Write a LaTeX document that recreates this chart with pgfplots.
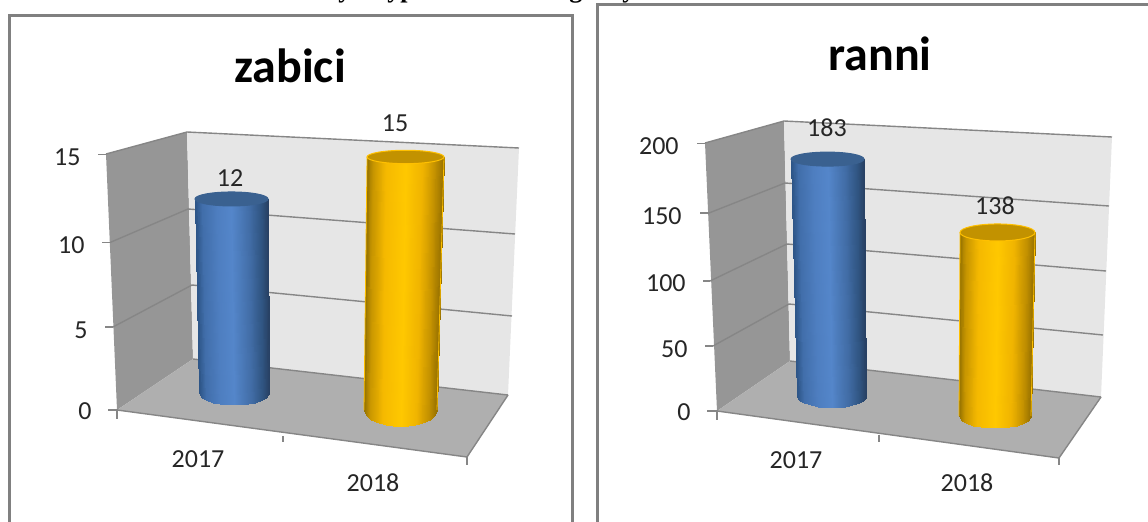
\documentclass[border=0pt]{standalone}
\usepackage{fontspec}
\setmainfont{Carlito}
\newfontfamily\headfont{Liberation Serif}
\usepackage{pgfplots}
\usepackage{pgfplotstable}
\pgfplotsset{compat=1.18}

\definecolor{blueCap}{HTML}{3A6190}
\definecolor{yelCap}{HTML}{C29200}
\definecolor{yelRim}{HTML}{FFC000}
\definecolor{wallL}{HTML}{969696}
\definecolor{wallB}{HTML}{E6E6E6}
\definecolor{floorc}{HTML}{AFAFAF}
\definecolor{gridc}{HTML}{868686}
\definecolor{framec}{HTML}{808080}
\definecolor{txt}{HTML}{262626}

% cylinder skin: bottom edge (t=0, follows the ellipse) then top edge (t=1)
\pgfplotstableread{
u arc t
-1.00 0.000 0
-0.98 0.199 0
-0.92 0.392 0
-0.80 0.600 0
-0.60 0.800 0
-0.40 0.917 0
-0.20 0.980 0
0.00 1.000 0
0.20 0.980 0
0.40 0.917 0
0.60 0.800 0
0.80 0.600 0
0.92 0.392 0
0.98 0.199 0
1.00 0.000 0
-1.00 0.000 1
-0.98 0.199 1
-0.92 0.392 1
-0.80 0.600 1
-0.60 0.800 1
-0.40 0.917 1
-0.20 0.980 1
0.00 1.000 1
0.20 0.980 1
0.40 0.917 1
0.60 0.800 1
0.80 0.600 1
0.92 0.392 1
0.98 0.199 1
1.00 0.000 1
}\cylskin

% 1 px of the reference = 0.5pt
\pgfplotsset{
  colormap={bluecyl}{rgb255(0cm)=(45,85,135) rgb255(10cm)=(65,110,170) rgb255(30cm)=(78,126,192)
    rgb255(50cm)=(84,134,202) rgb255(75cm)=(65,108,165) rgb255(90cm)=(48,85,130) rgb255(100cm)=(40,65,100)},
  colormap={yellowcyl}{rgb255(0cm)=(150,115,0) rgb255(8cm)=(200,150,0) rgb255(25cm)=(245,185,0)
    rgb255(50cm)=(255,200,0) rgb255(72cm)=(240,180,0) rgb255(88cm)=(195,145,0) rgb255(100cm)=(150,112,0)},
  % #1 y pixel of value 0, #2 px per unit, #3 ymax
  barpanel/.style n args={3}{
    at={(0pt,{0.5*(521-#1)*1pt})}, anchor=south west,
    scale only axis, width=574pt, height={0.5*#2*#3*1pt},
    xmin=0, xmax=1148, ymin=0, ymax=#3,
    axis lines=none, clip=false, point meta min=0, point meta max=100},
}
% #1 colormap, #2 base cx, #3 base half width, #4 base half height (in data units), #5 top cx, #6 top half width, #7 value
\newcommand\cylbody[7]{\addplot[surf, shader=interp, colormap name=#1, mesh/rows=2, point meta=explicit, forget plot]
  table[x expr={(1-\thisrow{t})*(#2+\thisrow{u}*#3)+\thisrow{t}*(#5+\thisrow{u}*#6)},
        y expr={\thisrow{t}*#7-(1-\thisrow{t})*\thisrow{arc}*#4},
        meta expr={(\thisrow{u}+1)*50}] {\cylskin};}
% #1 x, #2 value, #3 half width, #4 half height, #5 fill, #6 line
\newcommand\cylcap[6]{\addplot[only marks, mark=*, mark size=#3*0.5pt, mark options={yscale=#4/#3, draw=#6, fill=#5, line width=.5pt}] coordinates {(#1,#2)};}
\newcommand\lbl[3]{\node[font=\fontsize{13}{13}\selectfont, text=txt, inner sep=0pt] at (axis cs:#1,#2) {#3};}
\newcommand\lble[3]{\node[font=\fontsize{13}{13}\selectfont, text=txt, inner sep=0pt, anchor=east] at (axis cs:#1,#2) {#3};}
\newcommand\headbit[2]{\node[anchor=base west, font=\headfont\bfseries\fontsize{13}{13}\selectfont, inner sep=0pt] at (axis cs:#1,-3) {#2};}

\begin{document}
\begin{tikzpicture}
\useasboundingbox (0,0) rectangle (574pt,260.5pt);
\clip (0,0) rectangle (574pt,260.5pt);

% walls, floors, ticks, frames in reference pixels
\begin{axis}[at={(0pt,0pt)}, anchor=south west, scale only axis, width=574pt, height=260.5pt,
  xmin=0, xmax=1148, ymin=0, ymax=521, y dir=reverse, axis lines=none, clip=false]
% headline, only the descenders are on the page
\headbit{338}{y}
\headbit{387}{yp}
\headbit{569}{g}
\headbit{622}{y}

% frames
\addplot[framec, line width=1.2pt] coordinates {(9.5,530)(9.5,15.5)(572.5,15.5)(572.5,530)};
\addplot[framec, line width=1.2pt] coordinates {(597.5,530)(597.5,4.5)(1160,4.5)};

% left panel
\addplot[fill=wallL, draw=none] coordinates {(106,154)(187,132)(193,359)(117,410)} --cycle;
\addplot[fill=wallB, draw=none] coordinates {(187,132)(519,148)(508,395)(193,359)} --cycle;
\addplot[fill=floorc, draw=none] coordinates {(117,410)(193,359)(508,395)(467,457)} --cycle;
\addplot[gridc, line width=.7pt] coordinates {(106,154)(187,132)(519,148)};
\addplot[gridc, line width=.7pt] coordinates {(110,242.5)(188,209)(515,234)};
\addplot[gridc, line width=.7pt] coordinates {(113,327)(192,285)(512,316)};
\addplot[gridc, line width=.7pt] coordinates {(193,359)(508,395)};
\addplot[gridc, line width=.7pt] coordinates {(508,395)(467,457)(117,410)};
\addplot[gridc, line width=.7pt] coordinates {(98,154.5)(106,154.5)};
\addplot[gridc, line width=.7pt] coordinates {(102,242.5)(110,242.5)};
\addplot[gridc, line width=.7pt] coordinates {(105,327)(113,327)};
\addplot[gridc, line width=.7pt] coordinates {(108,410)(117,410)(117,419)};
\addplot[gridc, line width=.7pt] coordinates {(283,436)(283,442)};
\addplot[gridc, line width=.7pt] coordinates {(467,457)(467,465)};

% right panel
\addplot[fill=wallL, draw=none] coordinates {(705,143)(784,121)(790,361)(717,411)} --cycle;
\addplot[fill=wallB, draw=none] coordinates {(784,121)(1112,137)(1101,397)(790,361)} --cycle;
\addplot[fill=floorc, draw=none] coordinates {(717,411)(790,361)(1101,397)(1059,458)} --cycle;
\addplot[gridc, line width=.7pt] coordinates {(705,143)(784,121)(1112,137)};
\addplot[gridc, line width=.7pt] coordinates {(709,213)(785,183)(1109,206)};
\addplot[gridc, line width=.7pt] coordinates {(710,281)(787,244)(1106,271)};
\addplot[gridc, line width=.7pt] coordinates {(713,346)(789,304)(1103,335)};
\addplot[gridc, line width=.7pt] coordinates {(790,361)(1101,397)};
\addplot[gridc, line width=.7pt] coordinates {(1101,397)(1059,458)(717,411)};
\addplot[gridc, line width=.7pt] coordinates {(697,143.5)(705,143.5)};
\addplot[gridc, line width=.7pt] coordinates {(700,213)(709,213)};
\addplot[gridc, line width=.7pt] coordinates {(703,281)(710,281)};
\addplot[gridc, line width=.7pt] coordinates {(705,346)(713,346)};
\addplot[gridc, line width=.7pt] coordinates {(707,411)(717,411)(717,420)};
\addplot[gridc, line width=.7pt] coordinates {(879,435)(879,442)};
\addplot[gridc, line width=.7pt] coordinates {(1059,458)(1059,465)};

% titles
\node[font=\bfseries\fontsize{24}{24}\selectfont, anchor=base, inner sep=0pt] at (axis cs:290,82) {zabici};
\node[font=\bfseries\fontsize{24}{24}\selectfont, anchor=base, inner sep=0pt] at (axis cs:880,70) {ranni};

% axis numbers
\lble{81}{157}{15}
\lble{85}{245}{10}
\lble{88}{330}{5}
\lble{92}{411}{0}
\lble{679}{146}{200}
\lble{682}{216}{150}
\lble{686}{283}{100}
\lble{688}{349}{50}
\lble{691}{412}{0}
\lbl{198}{459}{2017}
\lbl{373}{483}{2018}
\lbl{796}{460}{2017}
\lbl{967}{483}{2018}
\end{axis}

% zabici 2017 = 12
\begin{axis}[barpanel={393}{16.17}{15}]
\cylbody{bluecyl}{234}{35}{0.74}{231.5}{36.5}{12}
\cylcap{231.5}{12}{36.5}{7}{blueCap}{blueCap}
\lbl{230}{13.3}{12}
\end{axis}

% zabici 2018 = 15
\begin{axis}[barpanel={410}{16.87}{15}]
\cylbody{yellowcyl}{400.5}{36.5}{0.95}{405.5}{38.5}{15}
\addplot[yelRim, line width=.4pt] coordinates {(364,0)(367,15)};
\addplot[yelRim, line width=.4pt] coordinates {(437,0)(444,15)};
\cylcap{405.5}{15}{38.5}{6.7}{yelCap}{yelRim}
\lbl{395}{17}{15}
\end{axis}

% ranni 2017 = 183
\begin{axis}[barpanel={397}{1.30}{200}]
\cylbody{bluecyl}{831.5}{34.5}{8.1}{827.5}{36.5}{183}
\cylcap{827.5}{183}{36.5}{7}{blueCap}{blueCap}
\lbl{827}{207}{183}
\end{axis}

% ranni 2018 = 138
\begin{axis}[barpanel={416}{1.33}{200}]
\cylbody{yellowcyl}{995}{36}{9}{997.5}{37.5}{138}
\addplot[yelRim, line width=.4pt] coordinates {(959,0)(960,138)};
\addplot[yelRim, line width=.4pt] coordinates {(1031,0)(1035,138)};
\cylcap{997.5}{138}{37.5}{8.5}{yelCap}{yelRim}
\lbl{995}{158}{138}
\end{axis}
\end{tikzpicture}
\end{document}
